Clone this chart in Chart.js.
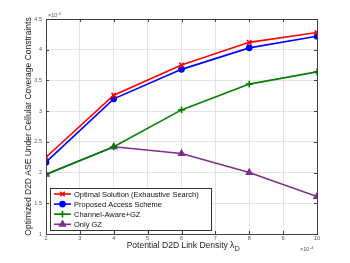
<!DOCTYPE html>
<html>
<head>
<meta charset="utf-8">
<script src="https://cdn.jsdelivr.net/npm/chart.js@4.4.1/dist/chart.umd.min.js"></script>
<style>
  html, body { margin: 0; padding: 0; background: #fff; }
  #wrap { width: 350px; height: 263px; }
</style>
</head>
<body>
<div id="wrap"><canvas id="chart" width="350" height="263"></canvas></div>
<script>
// x values (x10^-4) and series (x10^-5)
const densities = [2, 4, 6, 8, 10];
const optimalASE = [2.25, 3.26, 3.75, 4.12, 4.28];
const proposedASE = [2.17, 3.2, 3.68, 4.03, 4.22];
const channelAwareASE = [1.97, 2.42, 3.02, 3.44, 3.64];
const onlyGZASE = [1.97, 2.42, 2.31, 2.0, 1.61];
const seriesNames = ['Optimal Solution (Exhaustive Search)', 'Proposed Access Scheme', 'Channel-Aware+GZ', 'Only GZ'];
const xTicks = [2, 3, 4, 5, 6, 7, 8, 9, 10];
const yTicks = [1, 1.5, 2, 2.5, 3, 3.5, 4, 4.5];

const FONT = '"Liberation Sans", Arial, sans-serif';
const pts = arr => arr.map((v, i) => ({ x: densities[i], y: v }));

const mk = (label, data, color, style, radius) => ({
    label: label,
    data: pts(data),
    borderColor: color,
    backgroundColor: color,
    borderWidth: 1.6,
    pointStyle: style,
    pointRadius: radius,
    pointBorderWidth: 1.6,
    pointBackgroundColor: color,
    pointBorderColor: color,
    tension: 0
});

const datasets = [
    mk(seriesNames[0], optimalASE, '#ff0000', 'crossRot', 3.2),
    mk(seriesNames[1], proposedASE, '#0000ff', 'circle', 2.6),
    mk(seriesNames[2], channelAwareASE, '#008000', 'cross', 3.4),
    mk(seriesNames[3], onlyGZASE, '#7e2f8e', 'triangle', 3.2)
];

// box, titles, exponents and in-plot legend
const decor = {
    id: 'decor',
    afterDraw(chart) {
        const ctx = chart.ctx;
        const a = chart.chartArea;
        ctx.save();
        ctx.strokeStyle = '#404040';
        ctx.lineWidth = 1;
        ctx.strokeRect(Math.round(a.left) + 0.5, Math.round(a.top) + 0.5,
            Math.round(a.right - a.left), Math.round(a.bottom - a.top));

        // inward ticks
        const xs = chart.scales.x, ys = chart.scales.y;
        ctx.beginPath();
        xTicks.forEach(t => {
            const px = Math.round(xs.getPixelForValue(t)) + 0.5;
            ctx.moveTo(px, a.bottom); ctx.lineTo(px, a.bottom - 3);
            ctx.moveTo(px, a.top); ctx.lineTo(px, a.top + 3);
        });
        yTicks.forEach(t => {
            const py = Math.round(ys.getPixelForValue(t)) + 0.5;
            ctx.moveTo(a.left, py); ctx.lineTo(a.left + 3, py);
            ctx.moveTo(a.right, py); ctx.lineTo(a.right - 3, py);
        });
        ctx.stroke();

        ctx.fillStyle = '#555';
        ctx.font = '5.5px ' + FONT;
        ctx.textBaseline = 'alphabetic';
        ctx.textAlign = 'left';
        ctx.fillText('\u00d710', a.left + 2, a.top - 2);
        ctx.font = '4px ' + FONT;
        ctx.fillText('-5', a.left + 12, a.top - 4.5);
        ctx.font = '5.5px ' + FONT;
        ctx.fillText('\u00d710', a.right - 17, a.bottom + 17);
        ctx.font = '4px ' + FONT;
        ctx.fillText('-4', a.right - 7, a.bottom + 14.5);

        // axis titles
        ctx.fillStyle = '#222';
        ctx.font = '8.5px ' + FONT;
        const xt = 'Potential D2D Link Density \u03bb';
        const w = ctx.measureText(xt).width;
        const cx = (a.left + a.right) / 2 - 1;
        ctx.textAlign = 'left';
        ctx.fillText(xt, cx - w / 2, a.bottom + 14);
        ctx.font = '7px ' + FONT;
        ctx.fillText('D', cx + w / 2 + 0.5, a.bottom + 17);

        ctx.font = '8.5px ' + FONT;
        ctx.translate(28.5, (a.top + a.bottom) / 2 + 0);
        ctx.rotate(-Math.PI / 2);
        ctx.textAlign = 'center';
        ctx.textBaseline = 'middle';
        ctx.fillText('Optimized D2D ASE Under Cellular Coverage Constraints', 0, 0);
        ctx.setTransform(1, 0, 0, 1, 0, 0);

        // legend
        const lx = 50, ly = 188, lw = 161, lh = 42;
        ctx.fillStyle = '#fff';
        ctx.fillRect(lx, ly, lw, lh);
        ctx.strokeStyle = '#333';
        ctx.strokeRect(lx + 0.5, ly + 0.5, lw, lh);
        ctx.font = '7.5px ' + FONT;
        ctx.textAlign = 'left';
        ctx.textBaseline = 'middle';
        chart.data.datasets.forEach((ds, i) => {
            const y = ly + 6 + i * 10.1;
            ctx.strokeStyle = ds.borderColor;
            ctx.lineWidth = 1.6;
            ctx.beginPath();
            ctx.moveTo(lx + 4, y); ctx.lineTo(lx + 21, y);
            ctx.stroke();
            ctx.fillStyle = ds.borderColor;
            Chart.helpers.drawPoint(ctx, {
                pointStyle: ds.pointStyle, radius: ds.pointRadius,
                borderWidth: 1.6, rotation: 0
            }, lx + 12.5, y);
            ctx.fillStyle = '#111';
            ctx.fillText(ds.label, lx + 24, y + 0.5);
        });
        ctx.restore();
    }
};

new Chart(document.getElementById('chart'), {
    type: 'line',
    data: { datasets: datasets },
    options: {
        responsive: false,
        animation: false,
        layout: { padding: { left: 0, right: 33, top: 19, bottom: 0 } },
        plugins: { legend: { display: false }, tooltip: { enabled: false } },
        scales: {
            x: {
                type: 'linear',
                min: 2, max: 10,
                afterFit: s => { s.height = 29; },
                afterBuildTicks: s => { s.ticks = xTicks.map(v => ({ value: v })); },
                grid: { color: '#e4e4e4', drawTicks: false },
                border: { display: false },
                ticks: { font: { size: 5.5, family: FONT }, color: '#555', padding: 1.5, maxRotation: 0 }
            },
            y: {
                min: 1, max: 4.5,
                afterFit: s => { s.width = 46; },
                afterBuildTicks: s => { s.ticks = yTicks.map(v => ({ value: v })); },
                grid: { color: '#e4e4e4', drawTicks: false },
                border: { display: false },
                ticks: {
                    font: { size: 5.5, family: FONT }, color: '#555', padding: 4,
                    callback: v => String(v)
                }
            }
        }
    },
    plugins: [decor]
});
</script>
</body>
</html>
